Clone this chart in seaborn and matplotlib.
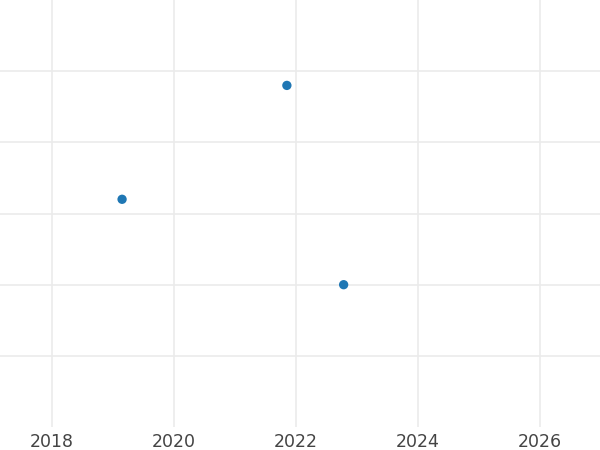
import pandas as pd
import seaborn as sns
from matplotlib import pyplot as plt

# values
years = [2019.15, 2021.85, 2022.78]
values = [3.2, 4.8, 2.0]
x_ticks = [2018, 2020, 2022, 2024, 2026]
y_ticks = [1, 2, 3, 4, 5]

df = pd.DataFrame({'year': years, 'value': values})

sns.set_style('white')
fig = plt.figure(figsize=(6, 4.5), dpi=100)
ax = fig.add_axes([0, 0.051, 1, 0.949])

sns.scatterplot(data=df, x='year', y='value', ax=ax, color='#1f77b4',
                s=45, edgecolor='none', zorder=3)

ax.set_xlim(2017.15, 2026.98)
ax.set_ylim(0, 6)
ax.set_xticks(x_ticks)
ax.set_xticklabels([str(t) for t in x_ticks])
ax.set_yticks(y_ticks)
ax.set_yticklabels([])
ax.grid(True, color='#ebebeb', linewidth=1.2)
ax.set_axisbelow(True)
ax.tick_params(axis='both', length=0, labelsize=12.5, labelcolor='#444444', pad=4)
ax.set_xlabel('')
ax.set_ylabel('')
sns.despine(ax=ax, left=True, bottom=True)

fig.savefig('out.png', dpi=100)
